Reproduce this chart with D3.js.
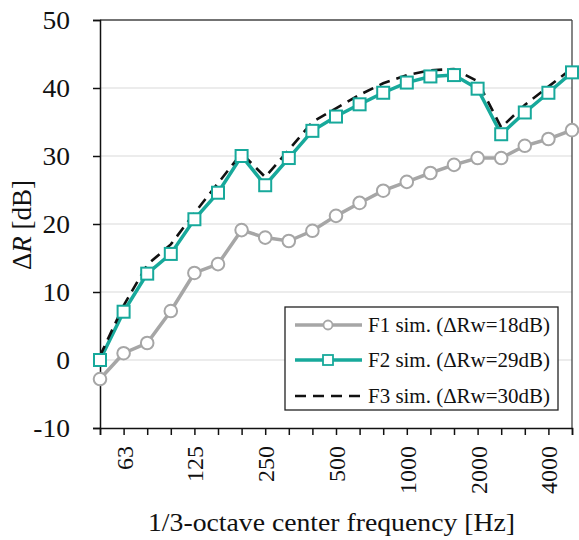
<!DOCTYPE html>
<html><head><meta charset="utf-8">
<script src="https://cdn.jsdelivr.net/npm/d3@7"></script>
<style>body{margin:0;background:#fff}svg{display:block}text{font-family:"Liberation Serif","Times New Roman",serif;fill:#111}</style>
</head><body>
<script>
const freqs = ["50","63","80","100","125","160","200","250","315","400","500","630","800","1000","1250","1600","2000","2500","3150","4000","5000"];
const labeledFreqs = ["63","125","250","500","1000","2000","4000"];
const yTicks = [-10,0,10,20,30,40,50];
const f1 = [-2.8,1.0,2.5,7.2,12.8,14.1,19.1,18.0,17.5,19.0,21.2,23.1,24.9,26.2,27.5,28.7,29.7,29.7,31.5,32.5,33.8];
const f2 = [0.0,7.1,12.7,15.6,20.7,24.6,30.0,25.7,29.7,33.7,35.8,37.6,39.3,40.8,41.7,41.9,39.9,33.2,36.4,39.3,42.3];
const f3 = [0.6,8.0,14.0,17.0,21.6,26.0,30.4,26.9,30.9,35.0,37.0,39.0,40.7,41.9,42.6,42.8,41.0,34.2,37.5,40.2,42.9];
const legendLabels = ["F1 sim. (\u0394Rw=18dB)","F2 sim. (\u0394Rw=29dB)","F3 sim. (\u0394Rw=30dB)"];

const W=579,H=540;
const svg=d3.select("body").append("svg").attr("width",W).attr("height",H);
const x=d3.scalePoint().domain(freqs).range([100,572]);
const y=d3.scaleLinear().domain([-10,50]).range([428,20]);
const gray="#a6a6a6", teal="#17a99b";

// gridlines
svg.append("g").selectAll("line").data([0,10,20,30,40]).join("line")
 .attr("x1",100).attr("x2",572).attr("y1",d=>y(d)).attr("y2",d=>y(d))
 .attr("stroke","#d9d9d9").attr("stroke-width",1.2);
// frame top/right
svg.append("line").attr("x1",100).attr("x2",572).attr("y1",y(50)).attr("y2",y(50)).attr("stroke","#444").attr("stroke-width",1.3);
svg.append("line").attr("x1",572).attr("x2",572).attr("y1",y(50)).attr("y2",y(-10)).attr("stroke","#444").attr("stroke-width",1.3);

// y axis
const ya=svg.append("g").attr("transform","translate(100,0)")
 .call(d3.axisLeft(y).tickValues(yTicks).tickSize(7).tickPadding(23).tickFormat(d=>String(d)));
ya.select(".domain").attr("stroke","#111").attr("stroke-width",1.5);
ya.selectAll(".tick line").attr("stroke","#111").attr("stroke-width",1.5);
ya.selectAll(".tick text").style("font-family","Liberation Serif").attr("font-size",25).attr("fill","#111")
 .each(function(){
  const t=d3.select(this); const xx=+t.attr("x");
  t.attr("x",0).attr("transform",`translate(${xx},0) scale(1.1,1)`);
});

// x axis
const xa=svg.append("g").attr("transform",`translate(0,${y(-10)})`)
 .call(d3.axisBottom(x).tickSize(7).tickFormat(d=>labeledFreqs.includes(d)?d:""));
xa.select(".domain").attr("stroke","#111").attr("stroke-width",1.5);
xa.selectAll(".tick line").attr("stroke","#111").attr("stroke-width",1.5);
xa.selectAll("text").style("font-family","Liberation Serif").attr("font-size",24).attr("fill","#111")
 .attr("transform","rotate(-90)").attr("text-anchor","end").attr("dy","0.35em").attr("x",-18).attr("y",0);

// lines
const line=arr=>d3.line().x((d,i)=>x(freqs[i])).y(d=>y(d))(arr);
svg.append("path").attr("d",line(f1)).attr("fill","none").attr("stroke",gray).attr("stroke-width",3.5);
svg.append("g").selectAll("circle").data(f1).join("circle")
 .attr("cx",(d,i)=>x(freqs[i])).attr("cy",d=>y(d)).attr("r",6.3)
 .attr("fill","#fff").attr("stroke",gray).attr("stroke-width",2);
svg.append("path").attr("d",line(f2)).attr("fill","none").attr("stroke",teal).attr("stroke-width",3.5);
svg.append("path").attr("d",line(f3)).attr("fill","none").attr("stroke","#111").attr("stroke-width",2.6).attr("stroke-dasharray","11,7");
svg.append("g").selectAll("rect").data(f2).join("rect")
 .attr("x",(d,i)=>x(freqs[i])-6).attr("y",d=>y(d)-6).attr("width",12).attr("height",12)
 .attr("fill","#fff").attr("stroke",teal).attr("stroke-width",2);

// legend
const lg=svg.append("g");
lg.append("rect").attr("x",285).attr("y",307).attr("width",273).attr("height",103)
 .attr("fill","#fff").attr("stroke","#222").attr("stroke-width",1.3);
const rows=[325,360,396];
lg.append("line").attr("x1",295).attr("x2",362).attr("y1",rows[0]).attr("y2",rows[0]).attr("stroke",gray).attr("stroke-width",3.5);
lg.append("circle").attr("cx",328).attr("cy",rows[0]).attr("r",4.5).attr("fill","#fff").attr("stroke",gray).attr("stroke-width",1.8);
lg.append("line").attr("x1",295).attr("x2",362).attr("y1",rows[1]).attr("y2",rows[1]).attr("stroke",teal).attr("stroke-width",3.5);
lg.append("rect").attr("x",323).attr("y",rows[1]-5).attr("width",10).attr("height",10).attr("fill","#fff").attr("stroke",teal).attr("stroke-width",1.8);
lg.append("line").attr("x1",295).attr("x2",362).attr("y1",rows[2]).attr("y2",rows[2]).attr("stroke","#111").attr("stroke-width",2.6).attr("stroke-dasharray","11,7");
lg.selectAll("text.l").data(legendLabels).join("text").attr("class","l")
 .attr("x",368).attr("y",(d,i)=>rows[i]).attr("dy","0.35em").attr("font-size",21)
 .attr("textLength",182).attr("lengthAdjust","spacingAndGlyphs").text(d=>d);

// axis titles
svg.append("text").attr("x",148).attr("y",531).attr("font-size",25.5)
 .attr("textLength",367).attr("lengthAdjust","spacingAndGlyphs")
 .text("1/3-octave center frequency [Hz]");
const yt=svg.append("text").attr("transform","translate(31,225) rotate(-90)").attr("text-anchor","middle").attr("font-size",27);
yt.append("tspan").text("\u0394");
yt.append("tspan").attr("font-style","italic").text("R");
yt.append("tspan").text(" [dB]");
</script>
</body></html>
